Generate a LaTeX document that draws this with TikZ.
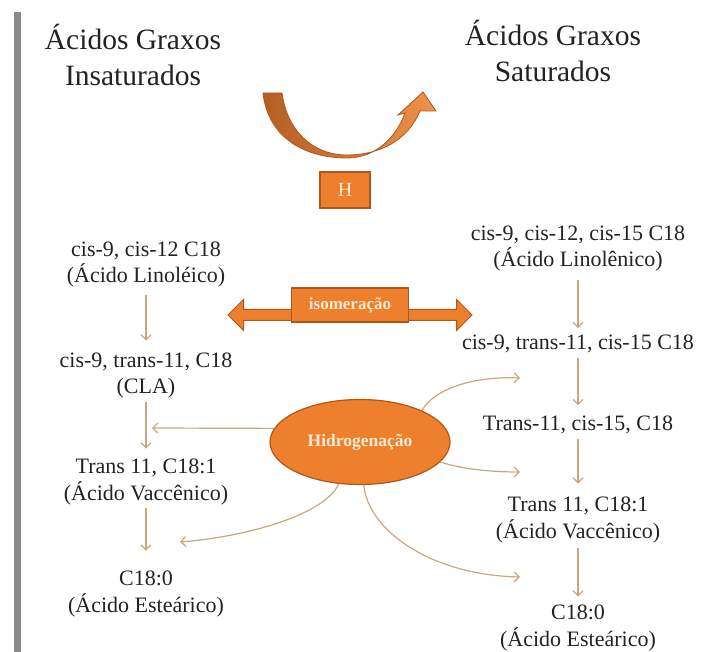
\documentclass[tikz,border=0pt]{standalone}
\usepackage{fontspec}
\setmainfont{Liberation Serif}
\usepackage{xcolor}
\usepackage{tikz}
\usetikzlibrary{shapes.geometric,shapes.arrows,arrows.meta,positioning}
\definecolor{laranja}{HTML}{EE7F2D}
\definecolor{laranjaesc}{HTML}{B0561C}
\definecolor{creme}{HTML}{FBEBD2}
\definecolor{seta}{HTML}{C9A67C}
\definecolor{texto}{HTML}{222222}
\definecolor{barra}{HTML}{8A8A8A}

\begin{document}
\begin{tikzpicture}[x=1pt, y=-1pt, tit/.style={align=center, text=texto, font=\fontsize{29.5}{36}\selectfont, inner sep=0pt, anchor=base}, comp/.style={align=center, text=texto, font=\fontsize{22}{26.5}\selectfont, inner sep=3pt, anchor=base}, ob/.style={draw=laranjaesc, fill=laranja, line width=1.2pt, text=creme}, flow/.style={draw=seta, line width=1.2pt, -{Straight Barb[length=5pt,width=10pt]}, shorten <=2pt, shorten >=6pt}]
\useasboundingbox (0,0) rectangle (702,652);
\fill[barra] (14,12) rectangle (21,652);
\node[tit] (insat) at (133,86) {Ácidos Graxos\\Insaturados};
\node[tit] (sat) at (553,82) {Ácidos Graxos\\Saturados};
\path[draw=laranjaesc, line width=0.8pt, left color=laranja!75!black, right color=laranja!85!white] (263,93) .. controls (268,138) and (305,158) .. (347,158) .. controls (375,158) and (396,138) .. (405,113) -- (398,115) -- (423,92) -- (436,111) -- (420,111) .. controls (408,140) and (380,155) .. (347,155) .. controls (312,155) and (287,130) .. (282,93) -- cycle;
\node[ob, minimum width=50pt, minimum height=36pt, font=\fontsize{20}{24}\selectfont] (hbox) at (345,190) {H};
\node[double arrow, draw=laranjaesc, fill=laranja, line width=1pt, minimum height=244pt, inner sep=5pt, double arrow head extend=10pt] (isoseta) at (350,315) {};
\node[ob, minimum width=117pt, minimum height=34pt, font=\bfseries\fontsize{17}{20}\selectfont] (isom) at (350,305) {isomeração};
\node[ellipse, ob, minimum width=180pt, minimum height=85pt, inner sep=0pt, font=\bfseries\fontsize{17.5}{20}\selectfont] (hidro) at (360,442) {Hidrogenação};
\node[comp] (linoleico) at (146,283) {cis-9, cis-12 C18\\(Ácido Linoléico)};
\node[comp] (cla) at (146,394) {cis-9, trans-11, C18\\(CLA)};
\node[comp] (vaccL) at (146,500) {Trans 11, C18:1\\(Ácido Vaccênico)};
\node[comp] (estL) at (146,612) {C18:0\\(Ácido Esteárico)};
\node[comp] (linolenico) at (578,267) {cis-9, cis-12, cis-15 C18\\(Ácido Linolênico)};
\node[comp] (c9t11) at (578,350) {cis-9, trans-11, cis-15 C18};
\node[comp] (t11c15) at (578,431) {Trans-11, cis-15, C18};
\node[comp] (vaccR) at (578,538) {Trans 11, C18:1\\(Ácido Vaccênico)};
\node[comp] (estR) at (578,646) {C18:0\\(Ácido Esteárico)};
\draw[flow, shorten <=4pt, shorten >=9pt] (linoleico) -- (cla);
\draw[flow, shorten <=0pt, shorten >=7pt] (cla) -- (vaccL);
\draw[flow, shorten <=0pt, shorten >=17pt] (vaccL) -- (estL);
\draw[flow, shorten <=5pt, shorten >=4pt] (linolenico) -- (c9t11);
\draw[flow, shorten <=1pt, shorten >=8pt] (c9t11) -- (t11c15);
\draw[flow, shorten <=1pt, shorten >=10pt] (t11c15) -- (vaccR);
\draw[flow, shorten <=2pt, shorten >=5pt] (vaccR) -- (estR);
\coordinate (hl) at (152,428);
\coordinate (h1) at (520,378);
\coordinate (h2) at (520,472);
\coordinate (h3) at (180,542);
\coordinate (h4) at (520,577);
\draw[flow, shorten <=0pt, shorten >=0pt] (hidro.171) -- (hl);
\draw[flow, shorten <=0pt, shorten >=0pt] (hidro.27) .. controls (435,388) and (475,376) .. (h1);
\draw[flow, shorten <=0pt, shorten >=0pt] (hidro.346) .. controls (465,470) and (495,472) .. (h2);
\draw[flow, shorten <=0pt, shorten >=0pt] (hidro.243) .. controls (325,515) and (245,537) .. (h3);
\draw[flow, shorten <=0pt, shorten >=0pt] (hidro.275) .. controls (368,530) and (430,575) .. (h4);
\end{tikzpicture}
\end{document}
